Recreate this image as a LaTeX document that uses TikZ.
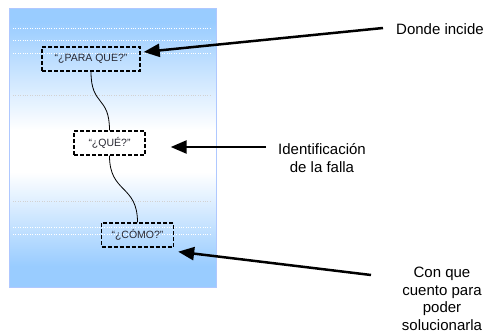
\documentclass[tikz,border=0pt]{standalone}
\usepackage{fontspec}
\setmainfont{Liberation Sans}
\usetikzlibrary{calc}
\usetikzlibrary{arrows.meta}
\definecolor{sky}{RGB}{153,204,255}
\definecolor{boxtext}{RGB}{40,40,50}

\begin{document}
\begin{tikzpicture}[x=1pt, y=-1pt,
		q/.style = {draw, line width=1.4pt, dash pattern=on 4pt off 2pt, minimum height=24pt, minimum width=71pt, inner xsep=10pt, text=boxtext, font=\fontsize{10.5}{12}\selectfont},
		p/.style = {-{Triangle[length=16pt, width=13pt]}, line width=2.5pt},
		lbl/.style = {align=center, font=\fontsize{15}{17.5}\selectfont},
		]
		
		\useasboundingbox	(0,0) rectangle (489,334);
		
		% panel
		\fill[sky]	(9,9)	rectangle (216,22);
		\shade[top color=sky, bottom color=white]	(9,22)	rectangle (216,130);
		\fill[white]	(9,130)	rectangle (216,172);
		\shade[top color=white, bottom color=sky]	(9,172)	rectangle (216,266);
		\fill[sky]	(9,266)	rectangle (216,287);
		\draw[sky!80!blue!60, line width=1pt]	(9,9)	rectangle (216,287);
		\foreach \y/\c in {28/white, 40/white, 53/white, 95/gray!35, 201/gray!35, 227/white, 234/white}
			\draw[\c, dotted, thin]	(13,\y)	--	(212,\y);
		
		% boxes
		\node[q, minimum width=98pt]	(paraque)	at (91,59)		{“¿PARA QUE?”};
		\node[q]	(que)	at (109.5,143)	{“¿QUÉ?”};
		\node[q]	(como)	at (137.5,235)	{“¿CÓMO?”};
		
		\draw[line width=0.8pt]	(paraque.south)	.. controls +(0,35) and +(0,-35) ..	(que.north);
		\draw[line width=0.8pt]	(que.south)		.. controls +(0,38) and +(0,-38) ..	(como.north);
		
		% labels
		\node[lbl]	(incide)	at (440,29)		{Donde incide};
		\node[lbl]	(falla)	at (322,158)	{Identificación\\de la falla};
		\node[lbl]	(solucion)	at (442,299)	{Con que\\cuento para\\poder\\solucionarla};
		
		\coordinate	(incidefrom)	at (383,28);
		\coordinate	(fallafrom)	at (266,147);
		\coordinate	(solucionfrom)	at (371,275);
		
		\draw[p]	(incidefrom)	--	($(paraque.east)+(3,-7)$);
		\draw[p]	(fallafrom)		--	($(que.east)+(25,4)$);
		\draw[p]	(solucionfrom)	--	($(como.south east)+(4,4)$);
	\end{tikzpicture}
\end{document}
